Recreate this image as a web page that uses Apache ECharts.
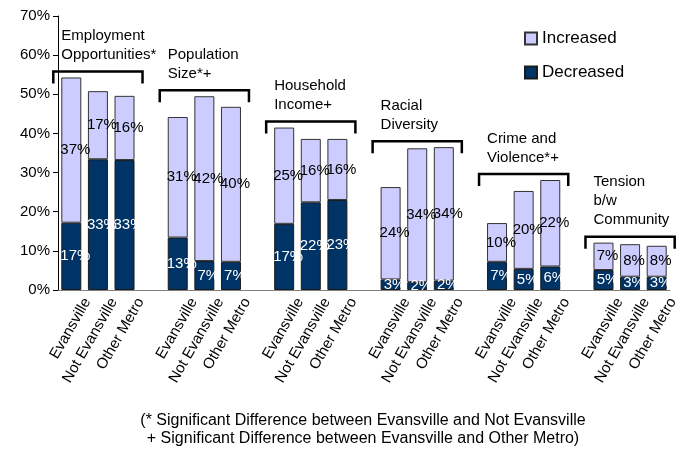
<!DOCTYPE html>
<html>
<head>
<meta charset="utf-8">
<script src="https://cdn.jsdelivr.net/npm/echarts@6/dist/echarts.min.js"></script>
<style>
  html, body { margin: 0; padding: 0; background: #fff; }
  #chart { width: 678px; height: 449px; }
</style>
</head>
<body>
<div id="chart"></div>
<script>
// Topic groups, each with three respondent locations
const groupTitles = [
  'Employment\nOpportunities*',
  'Population\nSize*+',
  'Household\nIncome+',
  'Racial\nDiversity',
  'Crime and\nViolence*+',
  'Tension\nb/w\nCommunity'
];
const places = ['Evansville', 'Not Evansville', 'Other Metro'];

// Percent saying "Decreased", per group: [Evansville, Not Evansville, Other Metro]
const decreased = [
  [17.2, 33.4, 33.2],
  [13.4, 7.4, 7.2],
  [16.9, 22.4, 23.0],
  [2.7, 2.0, 2.4],
  [7.2, 5.4, 6.0],
  [5.1, 3.4, 3.4]
];
// Percent saying "Increased", same layout
const increased = [
  [37.1, 17.4, 16.4],
  [30.8, 42.1, 39.6],
  [24.6, 16.2, 15.6],
  [23.6, 34.2, 34.1],
  [9.9, 19.9, 22.1],
  [7.0, 8.3, 7.9]
];
const yTickValues = [0, 10, 20, 30, 40, 50, 60, 70];
const footnote = '(* Significant Difference between Evansville and Not Evansville\n+ Significant Difference between Evansville and Other Metro)';

const FONT = 'Arial, "Liberation Sans", sans-serif';

// Flatten groups into category slots, leaving an empty slot between groups
const cats = [], decData = [], incData = [], groupStart = [];
groupTitles.forEach((t, g) => {
  groupStart.push(cats.length);
  places.forEach((p, i) => {
    cats.push(p);
    decData.push(decreased[g][i]);
    incData.push(increased[g][i]);
  });
  if (g < groupTitles.length - 1) {
    cats.push('');
    decData.push('-');
    incData.push('-');
  }
});

const pct = p => Math.round(p.value) + '%';

const chart = echarts.init(document.getElementById('chart'));
chart.setOption({
  animation: false,
  backgroundColor: '#fff',
  textStyle: { fontFamily: FONT },
  grid: { left: 58, right: 8, top: 16, bottom: 159, containLabel: false, outerBoundsMode: 'none' },
  legend: {
    data: ['Increased', 'Decreased'],
    orient: 'vertical',
    left: 519,
    top: 25,
    icon: 'rect',
    itemWidth: 12,
    itemHeight: 12,
    itemGap: 17,
    textStyle: { fontSize: 17, color: '#000', fontFamily: FONT }
  },
  xAxis: {
    type: 'category',
    data: cats,
    axisTick: { show: false },
    axisLine: { show: true, lineStyle: { color: '#808080', width: 1 } },
    axisLabel: {
      interval: 0,
      rotate: 60,
      margin: 0,
      align: 'right',
      verticalAlign: 'top',
      padding: [11, 0, 0, 0],
      fontSize: 15,
      color: '#000',
      fontFamily: FONT
    }
  },
  yAxis: {
    type: 'value',
    min: yTickValues[0],
    max: yTickValues[yTickValues.length - 1],
    interval: yTickValues[1] - yTickValues[0],
    splitLine: { show: false },
    axisLine: { show: true, lineStyle: { color: '#000', width: 1 } },
    axisTick: { show: true, length: 5, lineStyle: { color: '#000' } },
    axisLabel: {
      formatter: '{value}%',
      fontSize: 15,
      color: '#000',
      margin: 8,
      fontFamily: FONT
    }
  },
  series: [
    {
      name: 'Decreased',
      type: 'bar',
      stack: 'total',
      barWidth: 20,
      data: decData,
      itemStyle: { color: '#003366', borderColor: '#1a1a1a', borderWidth: 1 },
      label: {
        show: true,
        position: 'inside',
        offset: [4, 0],
        color: '#fff',
        fontSize: 15,
        fontFamily: FONT,
        formatter: pct
      }
    },
    {
      name: 'Increased',
      type: 'bar',
      stack: 'total',
      barWidth: 20,
      data: incData,
      itemStyle: { color: '#CCCCFF', borderColor: '#333', borderWidth: 1 },
      label: {
        show: true,
        position: 'inside',
        offset: [4, 0],
        color: '#000',
        fontSize: 15,
        fontFamily: FONT,
        formatter: pct
      }
    }
  ]
});

// Group brackets and titles, placed from the axis scales
const toPx = (idx, val) => chart.convertToPixel({ xAxisIndex: 0, yAxisIndex: 0 }, [idx, val]);
const graphics = [];
groupTitles.forEach((title, g) => {
  const s = groupStart[g];
  const left = toPx(s, 0)[0] - 18;
  const right = toPx(s + 2, 0)[0] + 18;
  let top = Infinity;
  for (let i = 0; i < 3; i++) {
    top = Math.min(top, toPx(s + i, decreased[g][i] + increased[g][i])[1]);
  }
  const yB = top - 6;
  graphics.push({
    type: 'polyline',
    shape: { points: [[left, yB + 12], [left, yB], [right, yB], [right, yB + 12]] },
    style: { stroke: '#000', lineWidth: 2.5, fill: null },
    silent: true
  });
  graphics.push({
    type: 'text',
    style: {
      text: title,
      x: left + 8,
      y: yB - 7,
      textVerticalAlign: 'bottom',
      textAlign: 'left',
      font: '15px ' + FONT,
      lineHeight: 19,
      fill: '#000'
    },
    silent: true
  });
});
graphics.push({
  type: 'text',
  style: {
    text: footnote,
    x: 363,
    y: 412,
    textAlign: 'center',
    textVerticalAlign: 'top',
    font: '16px ' + FONT,
    lineHeight: 18,
    fill: '#000'
  },
  silent: true
});
chart.setOption({ graphic: graphics });
</script>
</body>
</html>
